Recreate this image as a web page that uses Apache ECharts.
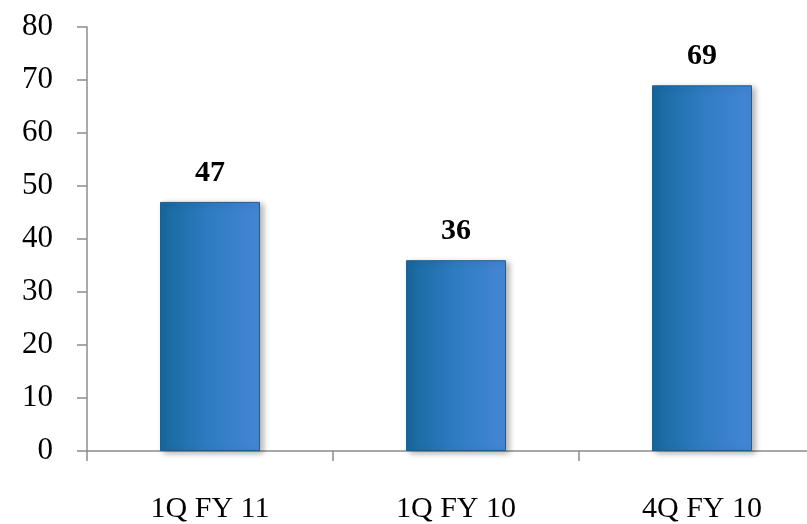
<!DOCTYPE html>
<html>
<head>
<meta charset="utf-8">
<script src="https://cdn.jsdelivr.net/npm/echarts@6/dist/echarts.min.js"></script>
<style>
  html, body { margin: 0; padding: 0; background: #fff; overflow: hidden; }
  #chart { width: 830px; height: 524px; }
</style>
</head>
<body>
<div id="chart"></div>
<script>
const categories = ["1Q FY 11", "1Q FY 10", "4Q FY 10"];
const values = [47, 36, 69];
const yTicks = [0, 10, 20, 30, 40, 50, 60, 70, 80];

const chart = echarts.init(document.getElementById("chart"));

const font = "'Liberation Serif', 'Times New Roman', serif";

// blue bar, darker on the left, lighter on the right
const barColor = new echarts.graphic.LinearGradient(0, 0, 1, 0, [
  { offset: 0, color: "#17689f" },
  { offset: 0.5, color: "#2f7cc2" },
  { offset: 1, color: "#4586d6" }
]);

chart.setOption({
  animation: false,
  grid: { left: 87, top: 27, width: 738, height: 426 },
  xAxis: {
    type: "category",
    data: categories,
    axisLine: { lineStyle: { color: "#8c8c8c", width: 1.5 } },
    axisTick: { show: true, length: 10, lineStyle: { color: "#8c8c8c", width: 1.5 } },
    axisLabel: {
      margin: 43,
      color: "#000",
      fontFamily: font,
      fontSize: 30
    }
  },
  yAxis: {
    type: "value",
    min: yTicks[0],
    max: yTicks[yTicks.length - 1],
    interval: 10,
    splitLine: { show: false },
    axisLine: { show: true, lineStyle: { color: "#8c8c8c", width: 1.5 } },
    axisTick: { show: true, length: 10, lineStyle: { color: "#8c8c8c", width: 1.5 } },
    axisLabel: {
      margin: 34,
      color: "#000",
      fontFamily: font,
      fontSize: 31
    }
  },
  series: [
    {
      type: "bar",
      data: values,
      barWidth: 100,
      itemStyle: {
        color: barColor,
        borderColor: "#1b5f94",
        borderWidth: 1,
        shadowColor: "rgba(0,0,0,0.3)",
        shadowBlur: 6,
        shadowOffsetX: 3,
        shadowOffsetY: 2
      },
      label: {
        show: true,
        position: "top",
        distance: 14,
        color: "#000",
        fontFamily: font,
        fontWeight: "bold",
        fontSize: 30
      }
    }
  ]
});
</script>
</body>
</html>
